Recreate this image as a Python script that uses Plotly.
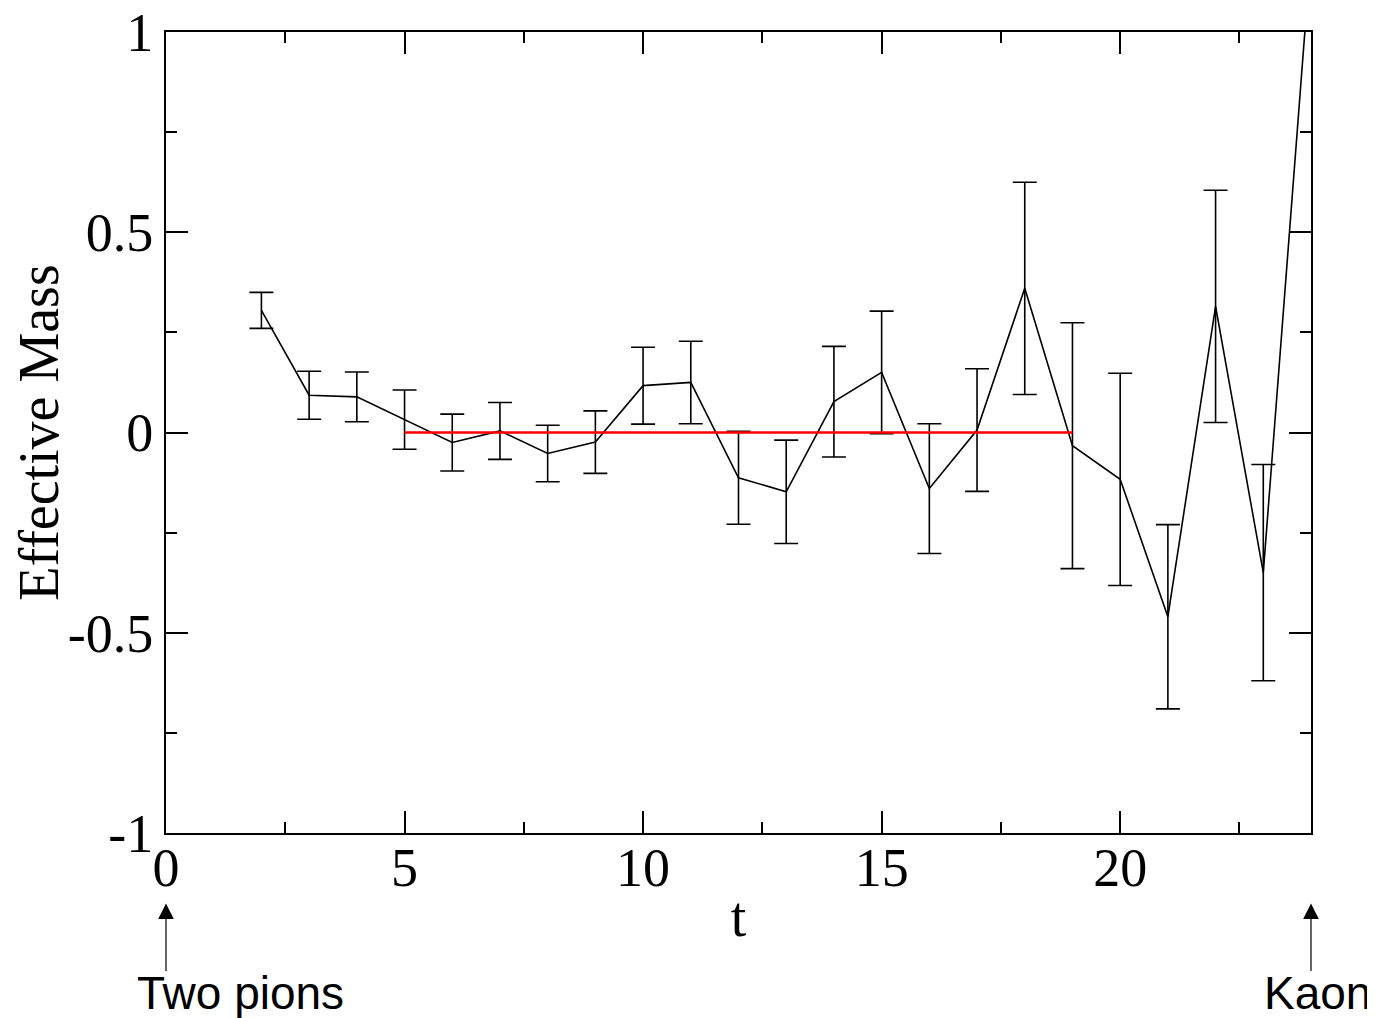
import plotly.graph_objects as go

# data
t_vals = [2, 3, 4, 5, 6, 7, 8, 9, 10, 11, 12, 13, 14, 15, 16, 17, 18, 19, 20, 21, 22, 23, 24]
m_eff = [0.305, 0.093, 0.089, 0.032, -0.025, 0.004, -0.0525, -0.024, 0.117, 0.125, -0.113,
         -0.148, 0.077, 0.15, -0.14, 0.006, 0.36, -0.033, -0.117, -0.46, 0.315, -0.35, 1.2]
m_err = [0.045, 0.06, 0.062, 0.074, 0.071, 0.071, 0.0705, 0.078, 0.096, 0.103, 0.116,
         0.129, 0.138, 0.153, 0.162, 0.153, 0.265, 0.307, 0.265, 0.23, 0.29, 0.27, 0.0]
fit_t = [5, 19]
fit_m = [0.0, 0.0]

x_tickvals = [0, 5, 10, 15, 20]
x_ticktext = ["0", "5", "10", "15", "20"]
y_tickvals = [-1, -0.5, 0, 0.5, 1]
y_ticktext = ["-1", "-0.5", "0", "0.5", "1"]

serif = "Liberation Serif, Times New Roman, serif"
sans = "Liberation Sans, Arial, sans-serif"

fig = go.Figure()
fig.add_trace(go.Scatter(
    x=t_vals, y=m_eff, mode="lines",
    line=dict(color="black", width=1.6),
    error_y=dict(type="data", array=m_err, visible=True, color="black",
                 thickness=1.6, width=12),
    showlegend=False,
))
fig.add_trace(go.Scatter(
    x=fit_t, y=fit_m, mode="lines",
    line=dict(color="#ff0000", width=2.5),
    showlegend=False,
))

axis_common = dict(
    showgrid=False, zeroline=False, showline=True, linecolor="black", linewidth=2,
    mirror="ticks", ticks="inside", ticklen=22, tickwidth=1.5, tickcolor="black",
    tickfont=dict(family=serif, size=54, color="black"), automargin=False,
    ticklabeloverflow="allow",
)

fig.update_xaxes(
    range=[0, 24], tickmode="array", tickvals=x_tickvals, ticktext=x_ticktext,
    minor=dict(dtick=2.5, tick0=0, ticks="inside", ticklen=11, tickwidth=1.5, tickcolor="black"),
    ticklabelstandoff=-14,
    title=dict(text="t", font=dict(family=serif, size=56, color="black"), standoff=0),
    **axis_common,
)
fig.update_yaxes(
    range=[-1, 1], tickmode="array", tickvals=y_tickvals, ticktext=y_ticktext,
    minor=dict(dtick=0.25, tick0=0, ticks="inside", ticklen=11, tickwidth=1.5, tickcolor="black"),
    title=dict(text="Effective Mass", font=dict(family=serif, size=56, color="black"), standoff=8),
    **axis_common,
)

fig.add_annotation(x=0, y=-0.088, xref="x", yref="paper", text="", showarrow=True,
                   ax=0, ay=69, arrowhead=2, arrowsize=2.6, arrowwidth=1.2, arrowcolor="black")
fig.add_annotation(x=24, y=-0.088, xref="x", yref="paper", text="", showarrow=True,
                   ax=0, ay=69, arrowhead=2, arrowsize=2.6, arrowwidth=1.2, arrowcolor="black")
fig.add_annotation(x=0.0655, y=-0.2, xref="paper", yref="paper", text="Two pions",
                   showarrow=False, xanchor="center", yanchor="middle",
                   font=dict(family=sans, size=46, color="black"))
fig.add_annotation(x=1.006, y=-0.2, xref="paper", yref="paper", text="Kaon",
                   showarrow=False, xanchor="center", yanchor="middle",
                   font=dict(family=sans, size=46, color="black"))

# page body has an 8px default margin; size the figure to fit the window
fig.update_layout(
    width=1367, height=1010,
    margin=dict(l=158, r=64, t=24, b=185, autoexpand=False),
    paper_bgcolor="white", plot_bgcolor="white",
)

fig.write_html("out.html")
